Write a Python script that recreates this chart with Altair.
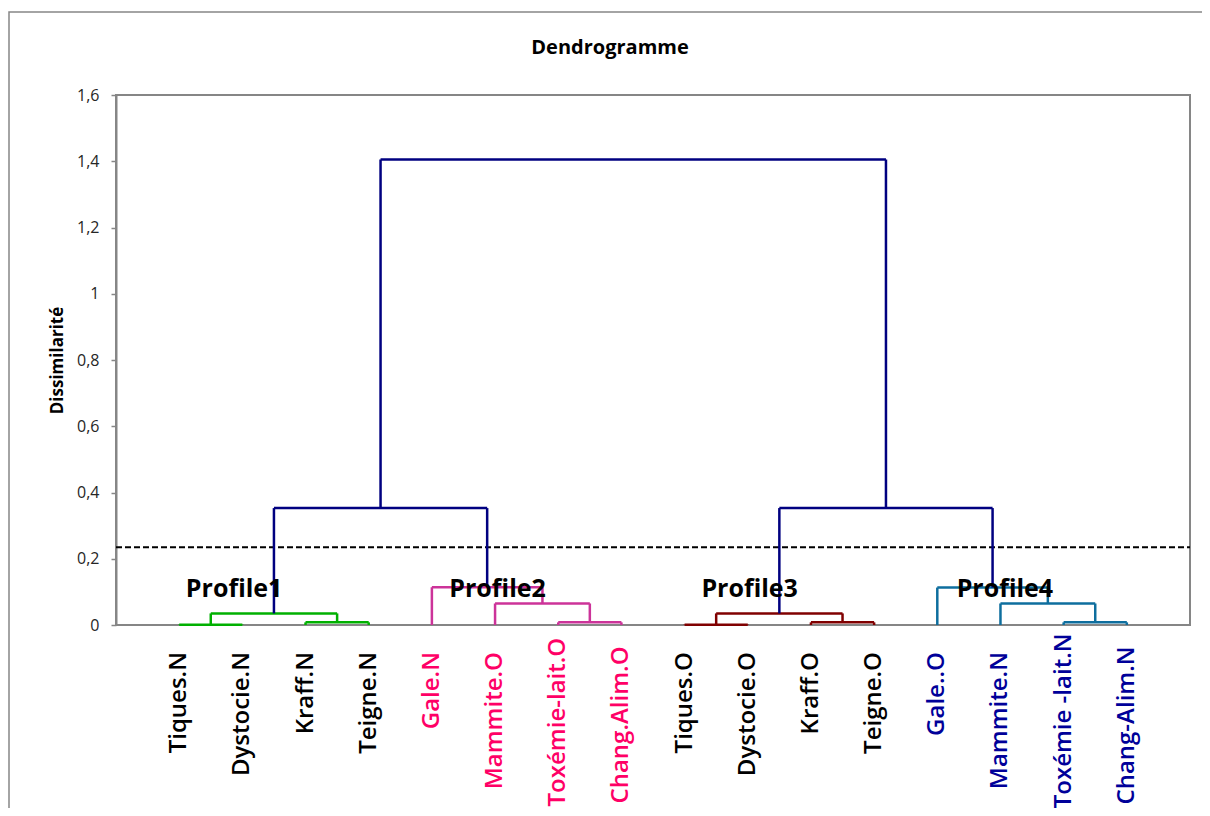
import altair as alt
import pandas as pd

# ---- data -------------------------------------------------------------
leaves = ["Tiques.N", "Dystocie.N", "Kraff.N", "Teigne.N",
          "Gale.N", "Mammite.O", "Toxémie-lait.O", "Chang.Alim.O",
          "Tiques.O", "Dystocie.O", "Kraff.O", "Teigne.O",
          "Gale..O", "Mammite.N", "Toxémie -lait.N", "Chang-Alim.N"]
leaf_group = ["Profile1"] * 4 + ["Profile2"] * 4 + ["Profile3"] * 4 + ["Profile4"] * 4

# merges (leaves are nodes 0..15, merge k creates node 16+k)
merge_left = [0, 2, 16, 6, 5, 4, 8, 10, 22, 14, 13, 12, 18, 24, 28]
merge_right = [1, 3, 17, 7, 19, 20, 9, 11, 23, 15, 25, 26, 21, 27, 29]
merge_height = [0.001, 0.008, 0.035, 0.008, 0.065, 0.114,
                0.001, 0.008, 0.035, 0.008, 0.065, 0.113,
                0.353, 0.353, 1.405]
merge_group = (["Profile1"] * 3 + ["Profile2"] * 3 + ["Profile3"] * 3
               + ["Profile4"] * 3 + ["Racine"] * 3)

profile_names = ["Profile1", "Profile2", "Profile3", "Profile4"]
profile_label_x = [0.87, 5.04, 9.03, 13.07]
profile_label_y = [0.108, 0.108, 0.108, 0.108]

cut_height = 0.235
y_ticks = [0, 0.2, 0.4, 0.6, 0.8, 1.0, 1.2, 1.4, 1.6]
x_domain = [-1, 16]
y_domain = [0, 1.6]
chart_title = "Dendrogramme"

# ---- build segments ---------------------------------------------------
node_x = {i: float(i) for i in range(len(leaves))}
node_h = {i: 0.0 for i in range(len(leaves))}
rows = []
for k, (l, r, h, g) in enumerate(zip(merge_left, merge_right, merge_height, merge_group)):
    nid = len(leaves) + k
    xl, xr = node_x[l], node_x[r]
    rows.append({"x": xl, "x2": xl, "y": node_h[l], "y2": h, "group": g})
    rows.append({"x": xr, "x2": xr, "y": node_h[r], "y2": h, "group": g})
    rows.append({"x": xl, "x2": xr, "y": h, "y2": h, "group": g})
    node_x[nid] = (xl + xr) / 2
    node_h[nid] = h
seg_df = pd.DataFrame(rows)

leaf_df = pd.DataFrame({"x": list(range(len(leaves))), "y": [0.0] * len(leaves),
                        "label": leaves, "group": leaf_group})
prof_df = pd.DataFrame({"x": profile_label_x, "y": profile_label_y, "label": profile_names})
cut_df = pd.DataFrame({"x": [x_domain[0]], "x2": [x_domain[1]], "y": [cut_height]})
box_df = pd.DataFrame({"x": [x_domain[0]], "x2": [x_domain[1]],
                       "y": [y_domain[0]], "y2": [y_domain[1]]})
title_df = pd.DataFrame({"label": [chart_title]})

FONT = "Open Sans"
GRAY = "#868686"

xs = alt.Scale(domain=x_domain, nice=False, zero=False)
ys = alt.Scale(domain=y_domain, nice=False)
y_axis = alt.Axis(values=y_ticks, grid=False,
                  labelExpr="replace(format(datum.value, '.1~f'), '.', ',')",
                  title="Dissimilarité", titleFont=FONT, titleFontSize=17,
                  titleFontWeight="bold", titleColor="#000000",
                  titleX=-59, titleY=265, titleAngle=270, titleAlign="center",
                  titleBaseline="middle",
                  labelFont=FONT, labelFontSize=16, labelColor="#262626",
                  labelPadding=12, tickSize=5, tickColor=GRAY, tickWidth=1.5,
                  domainColor=GRAY, domainWidth=2)

X = lambda f="x": alt.X(f"{f}:Q", scale=xs, axis=None)
Y = lambda f="y": alt.Y(f"{f}:Q", scale=ys, axis=y_axis)

# chart-area frame (Excel style)
frame = alt.Chart(cut_df).mark_rect(filled=False, stroke=GRAY, strokeWidth=1.5).encode(
    x=alt.value(-107), y=alt.value(-83), x2=alt.value(1110), y2=alt.value(900))

# plot-area border
box = alt.Chart(box_df).mark_rect(filled=False, stroke=GRAY, strokeWidth=2).encode(
    x=X(), x2="x2:Q", y=Y(), y2="y2:Q")

title = alt.Chart(title_df).mark_text(font=FONT, fontSize=20, fontWeight="bold",
                                      color="#000000", baseline="middle").encode(
    x=alt.value(494), y=alt.value(-47), text="label:N")

links = alt.Chart(seg_df).mark_rule(strokeWidth=2.5).encode(
    x=X(), x2="x2:Q", y=Y(), y2="y2:Q",
    color=alt.Color("group:N", legend=None,
                    scale=alt.Scale(domain=["Profile1", "Profile2", "Profile3", "Profile4", "Racine"],
                                    range=["#00B000", "#CC3399", "#800000", "#0E6E9E", "#000080"])))

cut = alt.Chart(cut_df).mark_rule(strokeWidth=2, strokeDash=[6, 3], color="#000000").encode(
    x=X(), x2="x2:Q", y=Y())

# long labels are pushed up so that they stay inside the chart area
leaf_text = alt.Chart(leaf_df).mark_text(
    angle=270, align="right", baseline="middle",
    font=FONT, fontSize=24, fontWeight=600,
    yOffset=alt.expr("min(27, 73 - 4.3 * length(datum.label))")).encode(
    x=X(), y=Y(), text="label:N",
    color=alt.Color("group:N", legend=None,
                    scale=alt.Scale(domain=profile_names,
                                    range=["#000000", "#FF0066", "#000000", "#000099"])))

prof_text = alt.Chart(prof_df).mark_text(font=FONT, fontSize=25, fontWeight="bold",
                                         color="#000000", baseline="middle").encode(
    x=X(), y=Y(), text="label:N")

chart = alt.layer(frame, box, title, cut, links, leaf_text, prof_text).resolve_scale(
    color="independent"
).properties(
    width=1074, height=530,
    autosize=alt.AutoSizeParams(type="none"),
    padding={"left": 108, "top": 87, "right": 12, "bottom": 183},
).configure_view(strokeWidth=0).configure(background="white")

chart.save("out.html", embed_options={"renderer": "svg", "actions": False})
